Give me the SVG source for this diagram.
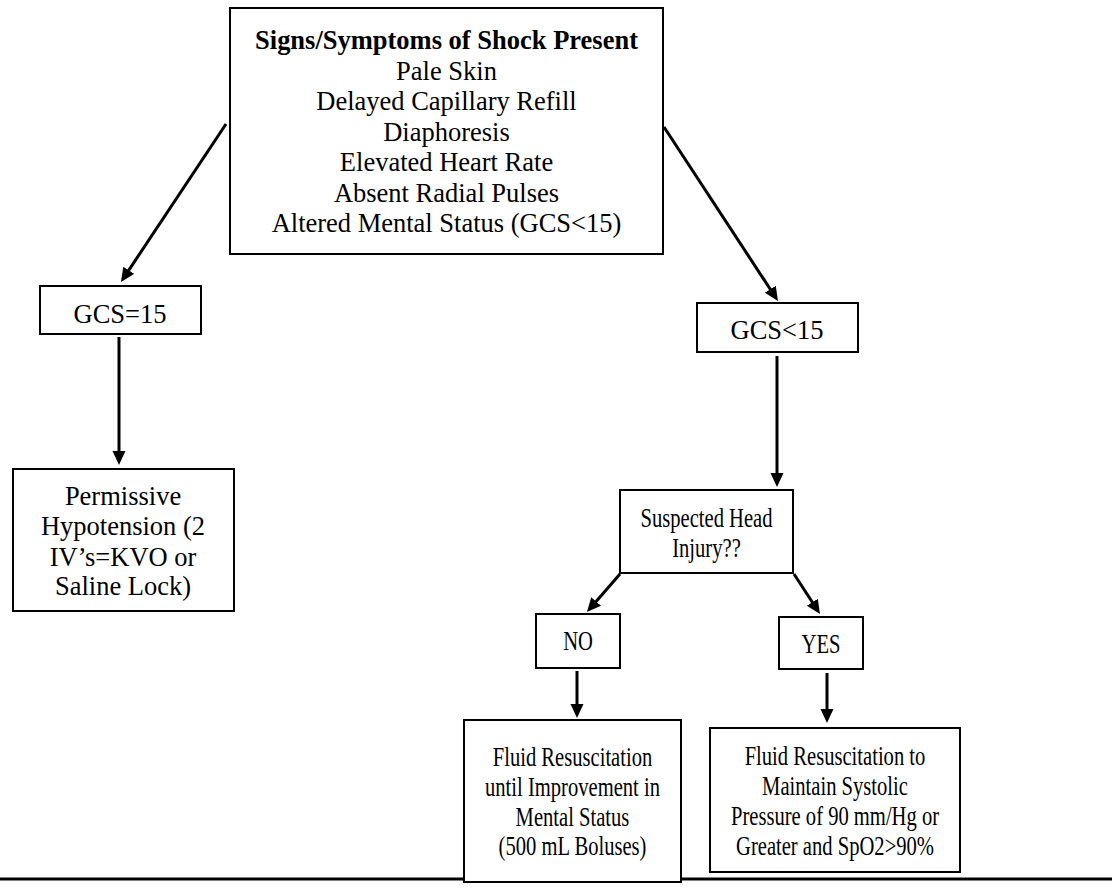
<svg xmlns="http://www.w3.org/2000/svg" width="1112" height="888" viewBox="0 0 1112 888">
<style>
.box{fill:#fff;stroke:#000;stroke-width:2}
.t{font-family:"Liberation Serif","Times New Roman",serif;font-size:26.5px;text-anchor:middle;fill:#000}
.s{font-size:20.6px}
.b{font-weight:bold}
.c{stroke:#000;stroke-width:3;fill:none;marker-end:url(#ah)}
</style>
<defs>
<marker id="ah" markerUnits="userSpaceOnUse" markerWidth="16" markerHeight="14" refX="6" refY="6.5" orient="auto">
<path d="M0,0 L14,6.5 L0,13 z" fill="#000"/>
</marker>
</defs>
<rect width="1112" height="888" fill="#fff"/>
<g id="rule"><line x1="0" y1="879" x2="1112" y2="879" stroke="#000" stroke-width="3"/></g>
<g id="connectors">
<line class="c" x1="226" y1="124" x2="125.4" y2="275.3"/>
<line class="c" x1="664" y1="127" x2="773.6" y2="294.3"/>
<line class="c" x1="119" y1="337" x2="119" y2="457"/>
<line class="c" x1="777" y1="356" x2="777" y2="479"/>
<line class="c" x1="620" y1="574" x2="592.2" y2="606"/>
<line class="c" x1="794" y1="574" x2="815.6" y2="607.3"/>
<line class="c" x1="577" y1="671" x2="577" y2="710"/>
<line class="c" x1="827" y1="673" x2="827" y2="715"/>
</g>
<g id="shock">
<rect class="box" x="230" y="8" width="433" height="246"/>
<text class="t b" transform="translate(446.5,49) scale(1,1.03)">Signs/Symptoms of Shock Present</text>
<text class="t" transform="translate(446.5,79.5) scale(1,1.03)">Pale Skin</text>
<text class="t" transform="translate(446.5,110) scale(1,1.03)">Delayed Capillary Refill</text>
<text class="t" transform="translate(446.5,140.5) scale(1,1.03)">Diaphoresis</text>
<text class="t" transform="translate(446.5,171) scale(1,1.03)">Elevated Heart Rate</text>
<text class="t" transform="translate(446.5,201.5) scale(1,1.03)">Absent Radial Pulses</text>
<text class="t" transform="translate(446.5,232) scale(1,1.03)">Altered Mental Status (GCS&lt;15)</text>
</g>
<g id="gcs15">
<rect class="box" x="40" y="286" width="161" height="48"/>
<text class="t" transform="translate(120,323) scale(1,1.03)">GCS=15</text>
</g>
<g id="permissive">
<rect class="box" x="13" y="469" width="221" height="142"/>
<text class="t" transform="translate(123,505) scale(1,1.03)">Permissive</text>
<text class="t" transform="translate(123,535) scale(1,1.03)">Hypotension (2</text>
<text class="t" transform="translate(123,566) scale(1,1.03)">IV’s=KVO or</text>
<text class="t" transform="translate(123,595) scale(1,1.03)">Saline Lock)</text>
</g>
<g id="gcslt15">
<rect class="box" x="697" y="303" width="161" height="49"/>
<text class="t" transform="translate(777,339) scale(1,1.03)">GCS&lt;15</text>
</g>
<g id="head">
<rect class="box" x="620" y="490" width="173" height="83"/>
<text class="t s" transform="translate(706.5,527) scale(1,1.33)">Suspected Head</text>
<text class="t s" transform="translate(706.5,557) scale(1,1.33)">Injury??</text>
</g>
<g id="no">
<rect class="box" x="536" y="614" width="84" height="54"/>
<text class="t s" transform="translate(578,650) scale(1,1.33)">NO</text>
</g>
<g id="yes">
<rect class="box" x="779" y="617" width="84" height="52"/>
<text class="t s" transform="translate(821,653) scale(1,1.33)">YES</text>
</g>
<g id="fluid-no">
<rect class="box" x="464" y="720" width="217" height="162"/>
<text class="t s" transform="translate(572.5,766) scale(1,1.33)">Fluid Resuscitation</text>
<text class="t s" transform="translate(572.5,796) scale(1,1.33)">until Improvement in</text>
<text class="t s" transform="translate(572.5,826) scale(1,1.33)">Mental Status</text>
<text class="t s" transform="translate(572.5,855) scale(1,1.33)">(500 mL Boluses)</text>
</g>
<g id="fluid-yes">
<rect class="box" x="710" y="728" width="250" height="144"/>
<text class="t s" transform="translate(835,765) scale(1,1.33)">Fluid Resuscitation to</text>
<text class="t s" transform="translate(835,795) scale(1,1.33)">Maintain Systolic</text>
<text class="t s" transform="translate(835,825) scale(1,1.33)">Pressure of 90 mm/Hg or</text>
<text class="t s" transform="translate(835,855) scale(1,1.33)">Greater and SpO2&gt;90%</text>
</g>
</svg>
